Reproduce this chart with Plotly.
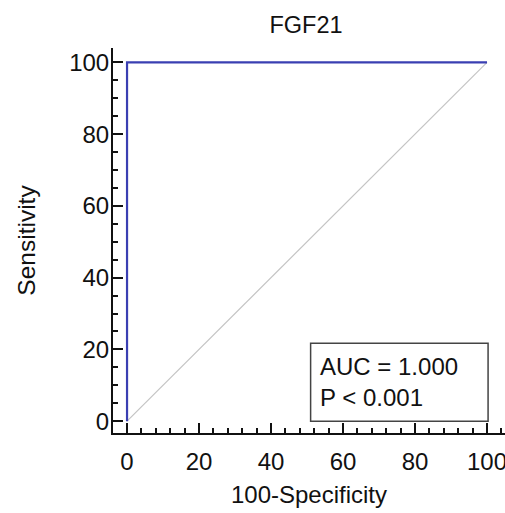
import plotly.graph_objects as go

roc_x = [0, 0, 100]
roc_y = [0, 100, 100]
diag_x = [0, 100]
diag_y = [0, 100]
title = "FGF21"
auc_text = "AUC = 1.000<br>P < 0.001"
x_ticks = [0, 20, 40, 60, 80, 100]
y_ticks = [0, 20, 40, 60, 80, 100]

FONT = "Liberation Sans, Arial, sans-serif"

fig = go.Figure()
fig.add_trace(go.Scatter(x=diag_x, y=diag_y, mode="lines",
                         line=dict(color="#c4c4c4", width=1.2), hoverinfo="skip"))
fig.add_trace(go.Scatter(x=roc_x, y=roc_y, mode="lines",
                         line=dict(color="#3a3fb2", width=2.2)))

fig.add_shape(type="rect", x0=51, x1=100.3, y0=0, y1=21.7, xref="x", yref="y",
              line=dict(color="#444444", width=1.5), fillcolor="rgba(0,0,0,0)")
fig.add_annotation(x=53.0, y=10.8, xref="x", yref="y", text=auc_text, showarrow=False,
                   xanchor="left", yanchor="middle", align="left",
                   font=dict(family=FONT, size=24, color="#111"))

fig.update_layout(
    width=505, height=513,
    margin=dict(l=113, r=0, t=48, b=80, autoexpand=False),
    paper_bgcolor="white", plot_bgcolor="white",
    showlegend=False,
    title=dict(text=title, x=0.606, xanchor="center", y=0.951, yanchor="middle",
               automargin=False,
               font=dict(family=FONT, size=23.5, color="#111")),
    font=dict(family=FONT, color="#111"),
)
fig.update_xaxes(range=[-3.9, 105], tickvals=x_ticks, showgrid=False, zeroline=False,
                 automargin=False, ticklabeloverflow="allow",
                 showline=True, linecolor="#111", linewidth=2,
                 ticks="inside", ticklen=10, tickwidth=1.5, tickcolor="#111",
                 minor=dict(dtick=4, tick0=0, ticks="inside", ticklen=5, tickcolor="#111", showgrid=False),
                 tickfont=dict(size=24, family=FONT, color="#111"), ticklabelstandoff=6,
                 title=dict(text="100-Specificity", font=dict(size=24, family=FONT, color="#111"), standoff=12))
fig.update_yaxes(range=[-3.3, 104], tickvals=y_ticks, showgrid=False, zeroline=False,
                 automargin=False, ticklabeloverflow="allow",
                 showline=True, linecolor="#111", linewidth=2,
                 ticks="inside", ticklen=10, tickwidth=1.5, tickcolor="#111",
                 minor=dict(dtick=5, tick0=0, ticks="inside", ticklen=5, tickcolor="#111", showgrid=False),
                 tickfont=dict(size=24, family=FONT, color="#111"), ticklabelstandoff=-3,
                 title=dict(text="Sensitivity", font=dict(size=24.5, family=FONT, color="#111"), standoff=27))

fig.write_html("out.html", config={"displayModeBar": False},
               post_script="document.body.style.margin='0';")
